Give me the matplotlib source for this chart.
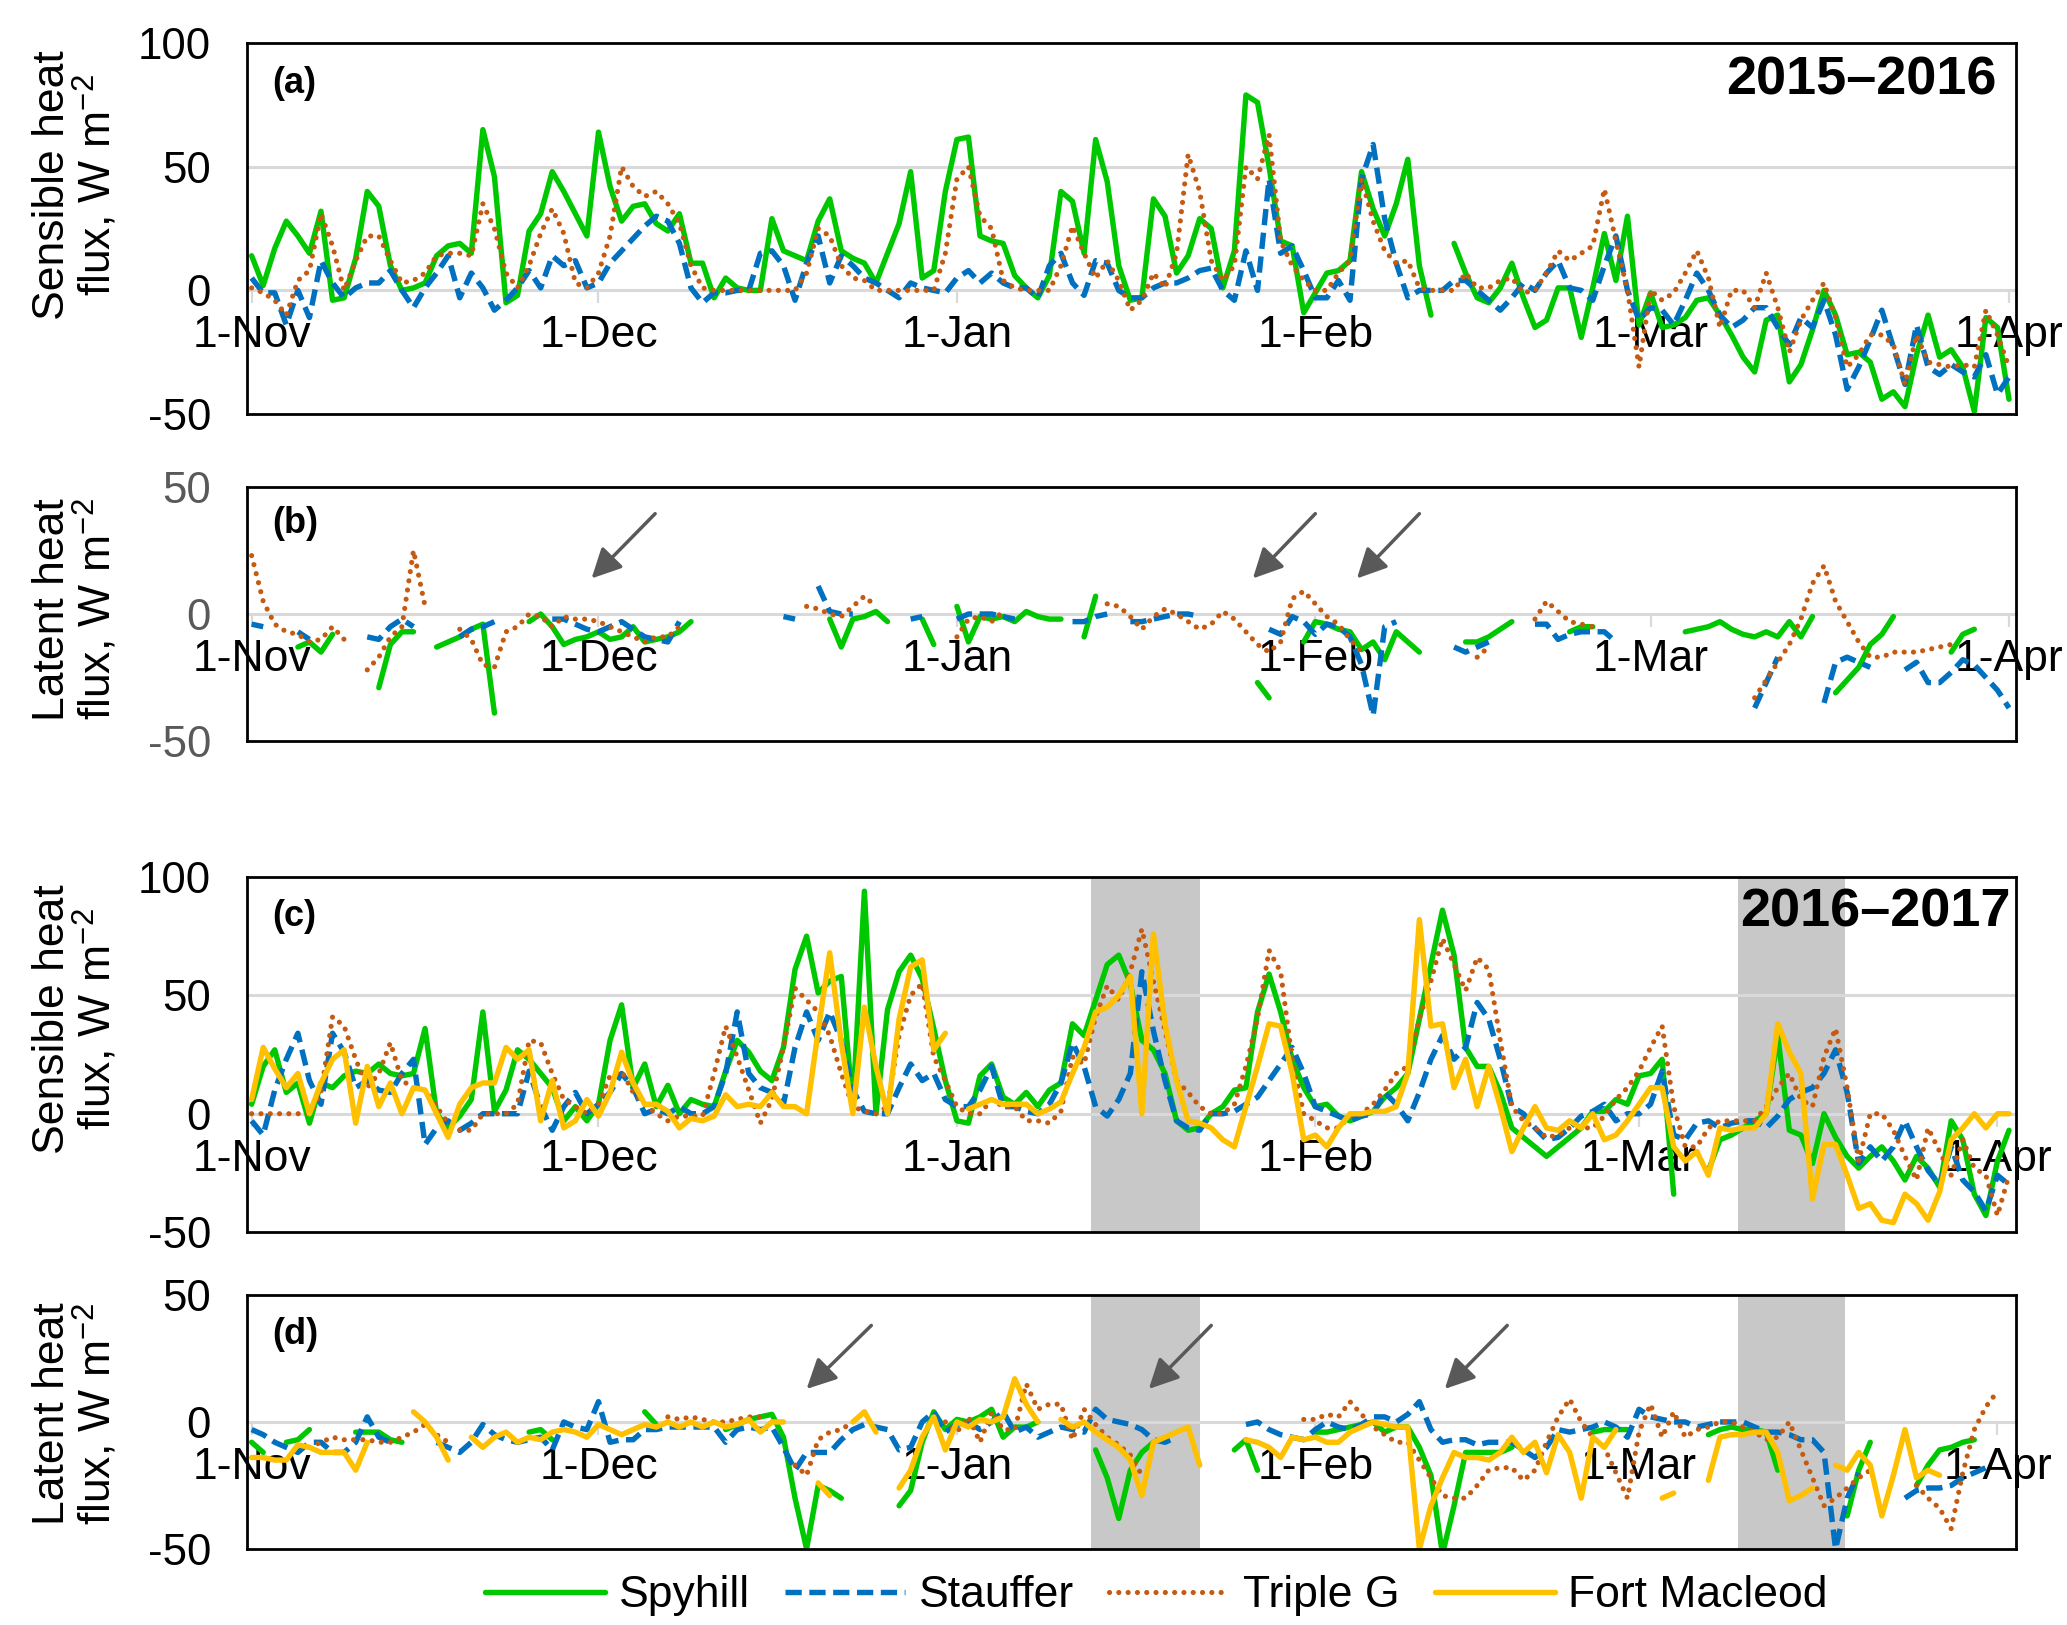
import numpy as np
import matplotlib
matplotlib.use("Agg")
import matplotlib.pyplot as plt
from matplotlib.lines import Line2D

plt.rcParams['font.family'] = ['Liberation Sans', 'DejaVu Sans']
plt.rcParams['mathtext.default'] = 'regular'

N_DAYS = 153  # day 0 = 1 Nov
month_ticks = [0, 30, 61, 92, 120, 151]
month_labels = ['1-Nov', '1-Dec', '1-Jan', '1-Feb', '1-Mar', '1-Apr']
month_ticks_a = [0, 30, 61, 92, 121, 152]

series_names = ['Spyhill', 'Stauffer', 'Triple G', 'Fort Macleod']
colors = ['#00C800', '#0070C0', '#C55A11', '#FFC000']
nan = np.nan

# ---------------- (a) Sensible heat 2015-2016 (daily, from 1-Nov) -------------
a_spyhill = [14,2,17,28,22,15,32,-4,-3,13, 40,34,10,0,1,3,14,18,19,15,
             65,46,-5,-2,24,31,48,40,31,22, 64,42,28,34,35,27,24,31,11,11,
             -3,5,1,0,0,29,16,14,12,28, 37,16,13,11,3,15,27,48,5,8,
             40,61,62,22,20,19,6,1,-3,6, 40,36,15,61,44,10,-4,
             -3,37,30,7,14,29,25,1,16,79, 76,50,20,18,-9,-1,7,8,12,48,
             33,22,35,53,10,-10,nan,19,7,-3, -5,1,11,-3,-15,-12,1,1,-19,1,
             23,4,30,-14,-1,-15,-14,-11,-4,-3, -10,-18,-27,-33,-12,-10,-37,-30,-16,0,
             -10,-26,-25,-29,-44,-41,-47,-26,-10,-27, -24,-31,-49,-11,-15,-44]
a_stauffer = [5,-1,-1,-14,0,-11,12,3,-3,1, 3,3,8,0,-7,1,7,14,-3,7,
              1,-8,-4,1,8,1,14,10,12,1, 3,11,16,21,26,30,28,19,1,-5,
              -1,-1,0,0,15,16,10,-4,11,22, 3,14,10,5,3,0,-3,3,1,0,
              -1,5,8,3,7,3,1,1,-3,10, 15,3,-2,12,11,0,-3,
              -3,1,3,3,5,8,9,0,-4,16, 0,45,15,18,8,-3,-3,4,-4,45,
              59,29,11,-3,0,0,0,4,4,0, -4,-8,-3,3,0,7,12,1,0,-4,
              10,22,0,-12,-7,-8,-14,-4,7,0, -10,-15,-12,-7,-7,-15,-22,-11,-15,-4,
              -18,-40,-31,-20,-8,-23,-38,-14,-31,-34, -30,-33,-35,-26,-42,-35]
a_tripleg = [1,-1,-4,-10,4,8,31,18,0,12, 22,22,12,3,4,7,14,15,15,14,
             35,25,7,1,10,23,33,23,3,1, 7,22,50,42,38,40,35,27,10,1,
             0,0,0,0,0,0,0,0,7,25, 22,10,5,4,0,0,0,0,0,0,
             15,45,50,30,25,4,1,0,0,0, 10,26,15,5,12,4,
             -8,-4,7,1,15,55,40,12,4,10, 50,45,63,20,10,4,0,0,7,12,
             45,28,16,11,12,1,0,0,0,7, 1,1,4,5,-1,0,7,16,12,15,
             18,41,20,0,-31,0,-4,-1,7,16, 5,-15,0,0,-7,7,-7,-25,-12,-4,
             3,-11,-31,-26,-18,-18,-22,-38,-18,-29, -30,-31,-30,-31,-8,-18,-31]

# ---------------- (b) Latent heat 2015-2016 (segments: start day -> daily values)
b_spyhill = {4: [-13,-11,-15,-8], 11: [-29,-12,-7,-7], 16: [-13,-11,-9,-6,-4,-39],
             24: [-3,0], 26: [-5,-12,-10,-9,-7,-10,-9,-5,-11,-10,-9,-7,-3],
             50: [-2,-13,-2,-1,1,-3], 58: [-2,-12], 61: [3,-11,-1,-2,-1,-3,1,-1,-2,-2],
             72: [-9,7], 87: [-27,-33], 91: [-11,-3,-4,-6,-7,-14,-11,-18,-7,-11,-15],
             105: [-11,-11,-9,-6,-3], 114: [-7,-5,-5],
             124: [-7,-6,-5,-3,-6,-8,-9,-7,-9,-3,-9,-1],
             137: [-31,-26,-21,-12,-8,-1], 147: [-15,-8,-6]}
b_stauffer = {0: [-4,-5], 4: [-7,-10], 10: [-9,-10,-5,-2,-5], 18: [-9,-6,-5,-3],
              26: [-2,-2,-4,-6,-7,-5,-3,-6,-9,-10,-11,-3], 46: [-1,-2], 49: [11,1,0,0],
              57: [-2,-1], 61: [-2,0,0,0,-1,-2], 71: [-3,-3,-1,0],
              76: [-3,-3,-2,-1,0,0,-1], 88: [-6,-8,-1,-3,-8,-4,-5,-9,-20,-40,-5,-3],
              104: [-13,-15,-13,-11], 111: [-4,-4,-10,-8,-7,-7,-7,-11],
              130: [-37,-27,-17], 136: [-35,-19,-17,-19,-21],
              143: [-22,-19,-27,-27,-23,-18,-20,-25,-30,-37]}
b_tripleg = {0: [23,5,-4,-7,-8,-11,-10,-5,-10], 10: [-22,-17,-9,-5,25,3],
             18: [-6,-10,-20,-21,-7,-5,0,-1,-5,-1,-2,-2,-3,-5,-7,-9,-11,-9,-9,-5],
             48: [3,2,0,-1,3,7,3], 61: [-9,-2,-1,-3,1],
             74: [4,3,-1,-6,-1,2,0,-3,-6,-4,1,-2,-7,-12,-15],
             89: [-11,6,9,4,-1,-4,-10,-15], 106: [-17,-13], 111: [-2,5,1,-3,-4,-5],
             130: [-33,-26,-19,-12,-2,12,19,5,-3,-11,-17,-17,-15,-15,-15,-14,-13,-12],
             152: [-5]}

# ---------------- (c) Sensible heat 2016-2017 (daily, from 1-Nov) -------------
c_spyhill = [4,20,27,9,13,-4,13,11,16,18, 17,21,17,16,17,36,0,-6,-1,6,
             43,1,10,27,23,17,11,-3,3,-3, 4,31,46,11,21,3,12,0,6,4,
             3,18,31,26,18,14,28,61,75,51, 56,58,3,94,0,44,60,67,57,36,
             14,-3,-4,16,21,7,4,9,3,10, 13,38,33,48,63,67,55,
             31,27,17,-3,-7,-6,0,3,10,11, 43,59,43,23,11,3,4,-1,-3,-1,
             1,7,11,17,40,63,86,67,28,20, 20,9,-6,-10,-14,-18,-14,-10,-6,1,
             1,6,4,16,17,23,-34,nan,nan,-24, -11,-9,-6,-3,0,33,-7,-9,-21,0,
             -10,-18,-23,-18,-14,-20,-28,-18,-23,-31, -3,-11,-34,-43,-20,-7]
c_stauffer = [-3,-9,10,23,34,14,4,34,26,11, 14,10,9,17,23,-13,-6,-3,-7,-4,
              0,0,0,0,18,3,-7,3,9,0, 4,9,17,11,0,2,0,3,0,0,
              3,17,43,17,11,9,4,28,43,31, 43,31,10,1,0,0,11,21,14,17,
              6,3,3,10,20,3,3,1,0,4, 13,30,20,3,-1,6,17,60,
              35,14,-3,-6,-7,0,0,1,4,7, 14,21,28,17,3,1,-1,-3,-1,0,
              9,4,-3,9,23,33,23,28,47,40, 23,3,0,-6,-11,-10,-6,-1,1,4,
              -3,0,0,4,18,-9,-11,-4,-3,-6, -4,-3,-3,-6,-1,6,9,11,17,27,
              9,-21,-14,-20,-14,-3,-14,-24,-30,-14, -28,-33,-41,-26,-30]
c_tripleg = [0,0,0,0,0,0,9,41,37,23, 11,17,30,14,11,10,3,-4,-7,-7,
             0,0,0,4,31,30,17,6,3,0, 4,16,18,9,4,0,-3,-1,-1,-1,
             17,37,24,10,-4,6,28,53,48,43, 33,17,3,1,0,3,33,50,55,24,
             14,3,0,0,6,3,3,-3,-3,-4, 1,24,21,41,54,48,60,78,
             56,35,14,9,3,0,0,4,20,40, 69,60,23,0,-3,-6,-6,-1,0,4,
             10,17,20,40,56,74,63,52,66,61, 31,3,-3,-6,-10,-9,-6,-6,-6,-1,
             6,11,18,28,37,3,-14,-14,-6,-3, -3,-3,-3,3,11,17,6,3,24,36,
             11,-20,0,0,-7,-18,-28,-6,-16,-26, -11,-23,-26,-43,-26]
c_fortmacleod = [6,28,19,11,17,0,13,23,27,-4, 20,3,13,0,11,10,0,-10,4,11,
                 13,13,28,23,27,-3,14,-6,-3,6, -1,9,26,13,4,4,1,-6,-2,-3,
                 -1,8,3,4,3,9,3,3,0,35, 68,30,0,45,20,0,40,62,65,27,
                 34,nan,2,4,6,4,4,4,0,2, 5,17,28,43,45,50,58,
                 0,76,38,14,-3,-4,-6,-11,-14,3, 20,38,37,17,-11,-9,-14,-6,0,0,
                 1,1,3,17,82,37,38,11,23,3, 20,3,-16,-6,3,-6,-7,-3,-6,0,
                 -11,-9,-3,4,11,11,-14,-20,-16,-26, -6,-7,-6,-6,0,38,26,17,-36,-13,
                 -13,-26,-40,-38,-45,-46,-34,-38,-45,-33, -11,-6,0,-6,0,0]

# ---------------- (d) Latent heat 2016-2017 (segments) ------------------------
d_spyhill = {0: [-8,-12], 3: [-8,-7,-3], 9: [-4,-4,-4,-7,-8], 24: [-4,-3,-7], 34: [4,-1],
             41: [-3,-1,1,2,3,-6,-30,-50,-25,-27,-30], 53: [4],
             56: [-33,-27,-8,4,-3,1,0,2,5,-6,-2,-2,0], 73: [-11,-22,-38,-19,-12,-8],
             85: [-11,-7,-19],
             92: [-4,-4,-3,-2,-1,0,-4,-2,-2,-10,-21,-52,-33,-12,-12,-12,-12,-10],
             116: [-4,-3,-3,-3], 126: [-5,-3,-2,-3,-3,-4,-19], 138: [-37,-19,-8],
             144: [-25,-17,-11,-10,-8,-7]}
d_stauffer = {0: [-3,-5,-8,-10,-12,-8,-8,-12,-12,-8,2,-6,-8],
              16: [-8,-10,-12,-8,-1,-5,-7,-8,-7,-6,-11,0,-2,-3,8,-8,-7,-7,-3,-3,-2,-2,-2,-2,-2,-8],
              42: [-3,-2,-3,-2,-10,-19,-12,-12,-12,-7,-3,-1,-2,-3,-11,-10,0,4,-4,-1,0,-3,
                   0,4,-4,-2,-6,-4,-2,-3,-4,5,1,0,-1,-3,-7,-8,-6],
              86: [-1,0,-3,-5,-6,-7,-3,0,-2,-3,-1,2,2,0,3,8,-3,-8,-7,-7,-9,-8,-8,-8,-11,-14,
                   -10,-3,-4,-3,-2,0,-2,-6,5,2,1,0,0,-2,-1,0,0,0,-2,-4,-4,-5,-7,-7,-12,-50,-30,-20],
              143: [-30,-27,-26,-26,-25,-22,-20,-18]}
d_tripleg = {5: [-10,-8,-6,-7,-7,-7,-8,-8,-6,-4,-1,-5,-8], 32: [-12],
             36: [2,1,2,1,0,0,1,2,2], 47: [-17,-21,-7,-4,-3,0], 56: [-12],
             60: [0,-4,2,-8,4,-3,-3,15,5,7,7,-7,5,-1,-6,-9,-13,-21],
             91: [1,1,3,2,8,3,-2,-5,-8,-8,-15,-22,-29,-30,-30,-25,-19,-18,-18,-23,-19,-8,2,9,
                  0,-6,-10,-20,-30,-4,7,-6,4,-6,-3,-2,0,0,-2,-4,-7,-6,0,-11,-22,-33,-30,-26,-22,-19],
             144: [-25,-30,-34,-42,-20,-3,6,12]}
d_fortmacleod = {0: [-14,-14,-15,-15,-9,-10,-12,-12,-12,-19,-8], 14: [4,0,-6,-15],
                 19: [-6,-10,-6,-4,-8,-6,-7,-4,-3,-4,-6,-1,-3,-5,-3,-1,-2,0,-2,0,-2,0,-2,-1,1,-4,0,0],
                 49: [-24,-29], 52: [0,4,-4], 56: [-26,-19,-6,2,-11,0,-2,1,0,2,17,7,0],
                 70: [1,-2,0,-4,-7,-10,-15,-29,-8,-6,-4,-2,-17],
                 86: [-7,-8,-10,-14,-6,-7,-6,-8,-8,-4,-2,0,-1,-2,-2,-50,-33,-22,-12,-14,-14,-15,-12,-6,-12],
                 111: [-8,-20,-5,-12,-30,-6,-10,-3], 122: [-30,-28],
                 126: [-23,-6,-5,-5,-4,-4,-12,-31,-29,-26],
                 137: [-17,-19,-12,-17,-37,-21,-3,-22,-19,-21]}

shade_spans = [(72.6, 82.0), (128.6, 137.8)]
arrows_b = [((34.9, 39.5), (29.4, 14)), ((92.0, 39.5), (86.6, 14)), ((101.0, 39.5), (95.6, 14))]
arrows_d = [((53.6, 38), (48.0, 13)), ((83.0, 38), (77.6, 13)), ((108.6, 38), (103.2, 13))]


def from_segments(segs):
    arr = np.full(N_DAYS, np.nan)
    for start, vals in segs.items():
        for i, v in enumerate(vals):
            if start + i < N_DAYS:
                arr[start + i] = v
    return arr


def padded(lst):
    arr = np.full(N_DAYS, np.nan)
    arr[:len(lst)] = lst
    return arr


styles = [
    dict(color=colors[0], lw=3.9, ls='-', solid_capstyle='round', solid_joinstyle='round'),
    dict(color=colors[1], lw=3.9, ls=(0, (3.0, 1.4)), dash_capstyle='butt'),
    dict(color=colors[2], lw=3.7, ls=(0, (0.01, 1.8)), dash_capstyle='round'),
    dict(color=colors[3], lw=3.9, ls='-', solid_capstyle='round', solid_joinstyle='round'),
]

FS = 32
fig = plt.figure(figsize=(20.67, 16.25), dpi=100)
L, W = 0.1195, 0.8558
pos = {'a': (0.7452, 0.2283), 'b': (0.5440, 0.1563), 'c': (0.2418, 0.2185), 'd': (0.0468, 0.1563)}
days = np.arange(N_DAYS)

panels = [
    ('a', [a_spyhill, a_stauffer, a_tripleg], (-50, 100), [-50, 0, 50, 100], 'black', month_ticks_a),
    ('b', [from_segments(b_spyhill), from_segments(b_stauffer), from_segments(b_tripleg)],
     (-50, 50), [-50, 0, 50], '#595959', month_ticks_a),
    ('c', [c_spyhill, c_stauffer, c_tripleg, c_fortmacleod], (-50, 100), [-50, 0, 50, 100], 'black', month_ticks),
    ('d', [from_segments(d_spyhill), from_segments(d_stauffer), from_segments(d_tripleg),
           from_segments(d_fortmacleod)], (-50, 50), [-50, 0, 50], 'black', month_ticks),
]

axes = {}
for key, data, ylim, yt, ycol, mt in panels:
    b0, h = pos[key]
    ax = fig.add_axes([L, b0, W, h])
    axes[key] = ax
    ax.set_xlim(-0.4, 152.6)
    ax.set_ylim(*ylim)
    if key in ('c', 'd'):
        for s0, s1 in shade_spans:
            ax.axvspan(s0, s1, color='#C8C8C8', lw=0, zorder=0.5)
    if ylim[1] == 100:
        ax.axhline(50, color='#D9D9D9', lw=2.2, zorder=0.8)
    for i, vals in enumerate(data):
        yv = vals if isinstance(vals, np.ndarray) else padded(list(vals))
        ax.plot(days, yv, zorder=2 + i, clip_on=True, **styles[i])
    ax.set_yticks(yt)
    ax.set_yticklabels([str(v) for v in yt])
    ax.tick_params(axis='y', length=0, pad=26, labelsize=FS - 0.5, labelcolor=ycol)
    ax.set_xticks([])
    for sp in ax.spines.values():
        sp.set_color('black')
        sp.set_linewidth(2.0)
        sp.set_zorder(10)
    zero_frac = (0 - ylim[0]) / (ylim[1] - ylim[0])
    sec = ax.secondary_xaxis(min(zero_frac, 0.4999))
    sec.xaxis.tick_bottom()
    sec.set_xticks(mt)
    sec.set_xticklabels(month_labels)
    sec.tick_params(axis='x', which='both', direction='out', length=9, width=1.6, color='#D9D9D9',
                    pad=9, labelsize=FS, labelcolor='black', top=False, labeltop=False,
                    bottom=True, labelbottom=True)
    for sname, sp in sec.spines.items():
        sp.set_color('#D9D9D9')
        sp.set_linewidth(2.2)
    sec.set_zorder(1)
    ax.text(0.014, {'a': 0.892, 'b': 0.858, 'c': 0.89, 'd': 0.843}[key], f'({key})',
            transform=ax.transAxes, fontsize=26, fontweight='bold', ha='left', va='center')

axes['a'].text(0.989, 0.90, '2015\u20132016', transform=axes['a'].transAxes, fontsize=39,
               fontweight='bold', ha='right', va='center')
axes['c'].text(0.997, 0.90, '2016\u20132017', transform=axes['c'].transAxes, fontsize=39,
               fontweight='bold', ha='right', va='center', zorder=20)

for key, arrs in (('b', arrows_b), ('d', arrows_d)):
    for (x0, y0), (x1, y1) in arrs:
        axes[key].annotate('', xy=(x1, y1), xytext=(x0, y0),
                           arrowprops=dict(arrowstyle='-|>', color='#595959', lw=2.5,
                                           mutation_scale=45, shrinkA=0, shrinkB=0))

ylab_sens = 'Sensible heat\nflux, W m$^{-2}$'
ylab_lat = 'Latent heat\nflux, W m$^{-2}$'
for ytxt, lab in ((0.886, ylab_sens), (0.625, ylab_lat), (0.373, ylab_sens), (0.130, ylab_lat)):
    fig.text(0.0368, ytxt, lab, rotation=90, ha='center', va='center', fontsize=FS,
             linespacing=1.0, multialignment='center')

handles = [Line2D([], [], **styles[i]) for i in range(4)]
fig.legend(handles, series_names, loc='center', bbox_to_anchor=(0.5595, 0.018), ncol=4,
           frameon=False, fontsize=FS, handlelength=2.7, handletextpad=0.3, columnspacing=0.8)

fig.savefig('out.png', dpi=100)
